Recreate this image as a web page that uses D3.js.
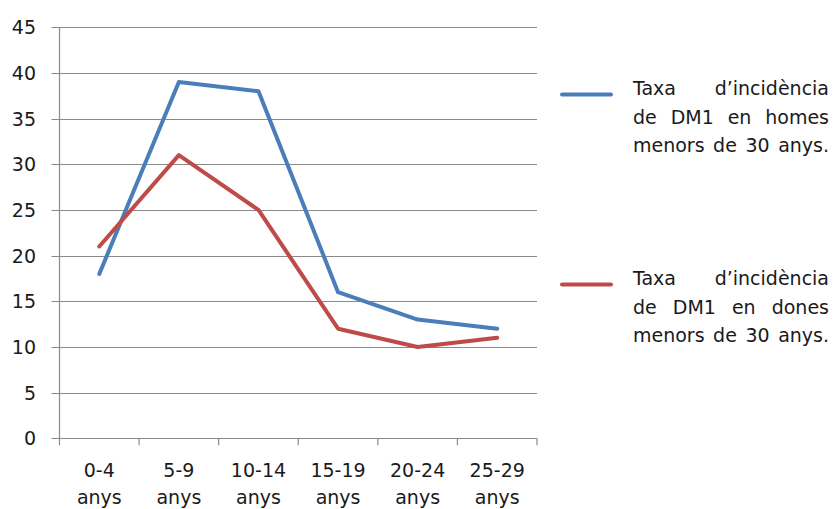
<!DOCTYPE html>
<html>
<head>
<meta charset="utf-8">
<script src="https://cdn.jsdelivr.net/npm/d3@7"></script>
<style>
  html, body { margin: 0; padding: 0; background: #ffffff; }
  svg { display: block; }
  text { font-family: "DejaVu Sans", Verdana, sans-serif; fill: #1a1a1a; }
</style>
</head>
<body>
<svg id="chart" width="836" height="509"></svg>
<script>
const categories = ["0-4|anys", "5-9|anys", "10-14|anys", "15-19|anys", "20-24|anys", "25-29|anys"];
const homes = [18, 39, 38, 16, 13, 12];
const dones = [21, 31, 25, 12, 10, 11];
const yTicks = [0, 5, 10, 15, 20, 25, 30, 35, 40, 45];
const legendHomes = ["Taxa d\u2019incidència", "de DM1 en homes", "menors de 30 anys."];
const legendDones = ["Taxa d\u2019incidència", "de DM1 en dones", "menors de 30 anys."];

(function () {
const svg = d3.select("#chart");
const pLeft = 59.5, pRight = 537, pTop = 27.3, pBottom = 438.3;

const x = d3.scaleBand().domain(categories).range([pLeft, pRight]);
const y = d3.scaleLinear().domain([0, 45]).range([pBottom, pTop]);

// gridlines with left ticks
svg.append("g").selectAll("line").data(yTicks).enter().append("line")
  .attr("x1", pLeft - 8).attr("x2", pRight)
  .attr("y1", d => Math.round(y(d)) + 0.5).attr("y2", d => Math.round(y(d)) + 0.5)
  .attr("stroke", "#8a8a8a").attr("stroke-width", 1.2);

// y labels
svg.append("g").selectAll("text").data(yTicks).enter().append("text")
  .attr("x", 36).attr("y", d => y(d))
  .attr("text-anchor", "end").attr("dominant-baseline", "central")
  .style("font-size", "19px")
  .text(d => d);

// y axis line
svg.append("line").attr("x1", pLeft).attr("x2", pLeft).attr("y1", pTop).attr("y2", pBottom)
  .attr("stroke", "#8a8a8a").attr("stroke-width", 1.2);

// x ticks
const xTickPos = categories.map(c => x(c)).concat([pRight]);
svg.append("g").selectAll("line").data(xTickPos).enter().append("line")
  .attr("x1", d => d).attr("x2", d => d)
  .attr("y1", pBottom).attr("y2", pBottom + 7)
  .attr("stroke", "#8a8a8a").attr("stroke-width", 1.2);

// x labels
svg.append("g").selectAll("text").data(categories).enter().append("text")
  .attr("text-anchor", "middle")
  .style("font-size", "19px")
  .each(function (d) {
    const parts = d.split("|");
    const t = d3.select(this);
    const cx = x(d) + x.bandwidth() / 2;
    t.append("tspan").attr("x", cx).attr("y", 477).text(parts[0]);
    t.append("tspan").attr("x", cx).attr("y", 504).text(parts[1]);
  });

// lines
const line = d3.line()
  .x((d, i) => x(categories[i]) + x.bandwidth() / 2)
  .y(d => y(d));

const series = [
  { values: homes, color: "#4a7ebb", legend: legendHomes, ly: 94.5 },
  { values: dones, color: "#be4b48", legend: legendDones, ly: 284.5 }
];

series.forEach(s => {
  svg.append("path").datum(s.values)
    .attr("d", line)
    .attr("fill", "none")
    .attr("stroke", s.color)
    .attr("stroke-width", 4)
    .attr("stroke-linejoin", "round")
    .attr("stroke-linecap", "round");
});

// legend
const textLeft = 633, textRight = 829;
series.forEach(s => {
  svg.append("line")
    .attr("x1", 562).attr("x2", 611)
    .attr("y1", s.ly).attr("y2", s.ly)
    .attr("stroke", s.color).attr("stroke-width", 4)
    .attr("stroke-linecap", "round");
  s.legend.forEach((ln, li) => {
    const baseY = s.ly + 0.5 + li * 28.5;
    const words = ln.split(" ");
    const g = svg.append("g");
    const nodes = words.map(w => g.append("text")
      .attr("y", baseY).style("font-size", "19px").text(w));
    const widths = nodes.map(n => n.node().getComputedTextLength());
    const total = d3.sum(widths);
    const gap = words.length > 1 ? (textRight - textLeft - total) / (words.length - 1) : 0;
    let cx = textLeft;
    nodes.forEach((n, i) => { n.attr("x", cx); cx += widths[i] + gap; });
  });
});
})();
</script>
</body>
</html>
